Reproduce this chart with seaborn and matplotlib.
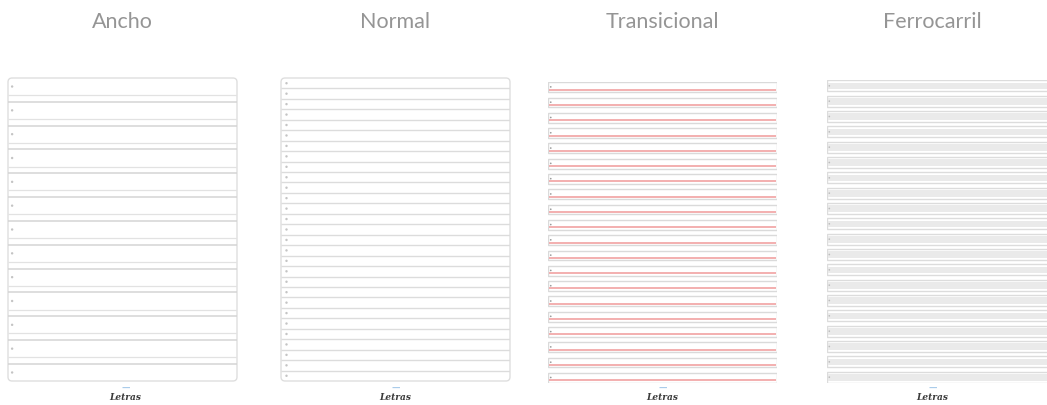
import matplotlib
matplotlib.use("Agg")
import matplotlib.pyplot as plt
from matplotlib.patches import FancyBboxPatch, Rectangle
import numpy as np
import pandas as pd
import seaborn as sns

# ---------------- data ----------------
paper_types = ["Ancho", "Normal", "Transicional", "Ferrocarril"]
row_counts = [13, 29, 20, 20]
logo_text = "Letras"

# ---------------- style ----------------
sns.set_theme(style="white")
plt.rcParams["font.family"] = ["Lato", "DejaVu Sans"]

W, H = 1047, 405
fig = plt.figure(figsize=(W / 100, H / 100), dpi=100)
fig.patch.set_facecolor("white")

# panel layout in pixels: (left, top, width, height)
panel_boxes = [(8, 78, 229, 303), (281, 78, 229, 303),
               (548, 82, 229, 301), (827, 80, 229, 303)]
title_x = [122, 395, 662, 932]
logo_x = [125, 395, 662, 932]

grey_line = "#dcdcdc"
border = "#dedede"
dot_col = "#c4c4c4"


def make_ax(box):
    l, t, w, h = box
    ax = fig.add_axes([l / W, 1 - (t + h) / H, w / W, h / H])
    ax.set_axis_off()
    return ax


def rounded_border(ax, box):
    l, t, w, h = box
    p = FancyBboxPatch((0, 0), 1, 1, boxstyle="round,pad=0,rounding_size=0.018",
                       mutation_aspect=w / h, transform=ax.transAxes,
                       facecolor="none", edgecolor=border, lw=1.0, clip_on=False)
    ax.add_patch(p)


def dots(ax, xs, ys, color=dot_col, s=3):
    df = pd.DataFrame({"x": xs, "y": ys})
    sns.scatterplot(data=df, x="x", y="y", ax=ax, s=s, color=color,
                    edgecolor="none", legend=False, zorder=5)
    ax.set_axis_off()


# ---- Ancho ----
ax = make_ax(panel_boxes[0])
n = row_counts[0]
wf = 0.715
idx = np.arange(n - 1)
ax.hlines(idx + wf, 0, 1, color="#e2e2e2", lw=0.9)
ax.hlines(idx + 1, 0, 1, color="#d4d4d4", lw=1.1)
dots(ax, np.full(n, 0.018), np.arange(n) + wf / 2)
ax.set_xlim(0, 1)
ax.set_ylim(n - 1 + wf, 0)
rounded_border(ax, panel_boxes[0])

# ---- Normal ----
ax = make_ax(panel_boxes[1])
n = row_counts[1]
ax.hlines(np.arange(1, n), 0, 1, color=grey_line, lw=1.0)
dots(ax, np.full(n, 0.024), np.arange(n) + 0.5)
ax.set_xlim(0, 1)
ax.set_ylim(n, 0)
rounded_border(ax, panel_boxes[1])

# ---- Transicional ----
ax = make_ax(panel_boxes[2])
n = row_counts[2]
bh = 0.64
for i in range(n):
    ax.add_patch(Rectangle((0.002, i), 0.996, bh, facecolor="white",
                           edgecolor="#dadada", lw=1.0))
ax.hlines(np.arange(n) + 0.48, 0.004, 0.996, color="#f2a9a9", lw=1.3)
dots(ax, np.full(n, 0.012), np.arange(n) + 0.3, color="#9a9a9a", s=1.5)
ax.set_xlim(0, 1)
ax.set_ylim(n - 1 + bh + 0.02, -0.02)

# ---- Ferrocarril ----
ax = make_ax(panel_boxes[3])
n = row_counts[3]
bh = 0.72
for i in range(n):
    ax.add_patch(Rectangle((0.002, i), 1.2, bh, facecolor="white",
                           edgecolor="#dcdcdc", lw=1.0))
    ax.add_patch(Rectangle((0.006, i + 0.16), 1.2, bh - 0.30,
                           facecolor="#eaeaea", edgecolor="none"))
dots(ax, np.full(n, 0.01), np.arange(n) + bh / 2, color="#bdbdbd", s=1.5)
ax.set_xlim(0, 1)
ax.set_ylim(n - 1 + bh + 0.02, -0.02)

# ---- titles and logos ----
for name, tx, lx in zip(paper_types, title_x, logo_x):
    fig.text(tx / W, 1 - 22 / H, name, ha="center", va="center",
             fontsize=15.5, color="#959595", fontweight="normal")
    fig.text(lx / W, 1 - 398 / H, logo_text, ha="center", va="center",
             fontsize=6.5, color="#3a3a3a", fontweight="bold",
             fontstyle="italic", family=["DejaVu Serif"])
    fig.text((lx + 1) / W, 1 - 388.5 / H, "\u2014", ha="center",
             va="center", fontsize=6, color="#a8cbea", fontweight="bold",
             family=["DejaVu Sans"])

fig.savefig("out.png", dpi=100, facecolor="white")
